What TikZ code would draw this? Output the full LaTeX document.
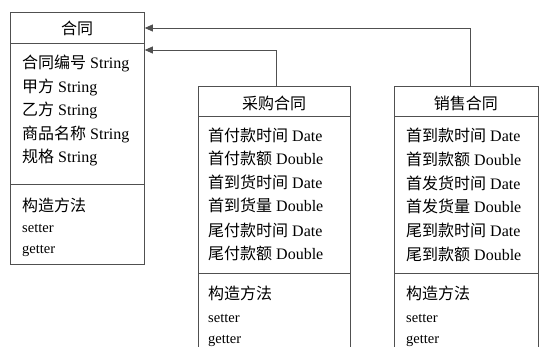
\documentclass[tikz,border=0pt]{standalone}
\usepackage{fontspec}
\setmainfont{Liberation Serif}
\newfontfamily\cjk{Noto Sans CJK SC}
\usetikzlibrary{arrows.meta}
\definecolor{linec}{HTML}{505050}
\begin{document}
\begin{tikzpicture}[x=1pt,y=-1pt,
  box/.style={draw=linec, line width=0.8pt, rectangle, anchor=north west, inner sep=0pt},
  div/.style={draw=linec, line width=0.8pt},
  conn/.style={draw=linec, line width=0.8pt, -{Triangle[length=8pt,width=7pt]}},
  txt/.style={anchor=base west, inner sep=0pt, font=\fontsize{16}{16}\selectfont},
  small/.style={anchor=base west, inner sep=0pt, font=\fontsize{14.5}{14.5}\selectfont},
  hdr/.style={anchor=base, inner sep=0pt, font=\fontsize{16}{16}\selectfont\cjk}]
\useasboundingbox (0,0) rectangle (539,347);
\clip (0,0) rectangle (539,347);
\fill[white] (0,0) rectangle (539,347);

% base class
\node[box, minimum width=134pt, minimum height=252pt] (base) at (10,12) {};
\draw[div] (base.west |- 0,43) -- (base.east |- 0,43);
\draw[div] (base.west |- 0,184) -- (base.east |- 0,184);
\node[hdr] (basehead) at (77,35) {合同};
\node[txt] (a1) at (22,69) {{\cjk 合同编号} String};
\node[txt] (a2) at (22,93) {{\cjk 甲方} String};
\node[txt] (a3) at (22,116) {{\cjk 乙方} String};
\node[txt] (a4) at (22,140) {{\cjk 商品名称} String};
\node[txt] (a5) at (22,163) {{\cjk 规格} String};
\node[txt] (m1) at (22,212) {\cjk 构造方法};
\node[small] (m2) at (22,233) {setter};
\node[small] (m3) at (22,254) {getter};

% purchase contract
\node[box, minimum width=152pt, minimum height=275pt] (buy) at (198,86) {};
\draw[div] (buy.west |- 0,116) -- (buy.east |- 0,116);
\draw[div] (buy.west |- 0,273) -- (buy.east |- 0,273);
\node[hdr] (buyhead) at (274,110) {采购合同};
\node[txt] (p1) at (208,142) {{\cjk 首付款时间} Date};
\node[txt] (p2) at (208,165) {{\cjk 首付款额} Double};
\node[txt] (p3) at (208,189) {{\cjk 首到货时间} Date};
\node[txt] (p4) at (208,212) {{\cjk 首到货量} Double};
\node[txt] (p5) at (208,237) {{\cjk 尾付款时间} Date};
\node[txt] (p6) at (208,260) {{\cjk 尾付款额} Double};
\node[txt] (pm1) at (208,300) {\cjk 构造方法};
\node[small] (pm2) at (208,323) {setter};
\node[small] (pm3) at (208,344) {getter};

% sales contract
\node[box, minimum width=143.5pt, minimum height=275pt] (sell) at (394,86) {};
\draw[div] (sell.west |- 0,116) -- (sell.east |- 0,116);
\draw[div] (sell.west |- 0,273) -- (sell.east |- 0,273);
\node[hdr] (sellhead) at (465.75,110) {销售合同};
\node[txt] (s1) at (406,142) {{\cjk 首到款时间} Date};
\node[txt] (s2) at (406,166) {{\cjk 首到款额} Double};
\node[txt] (s3) at (406,190) {{\cjk 首发货时间} Date};
\node[txt] (s4) at (406,213) {{\cjk 首发货量} Double};
\node[txt] (s5) at (406,237) {{\cjk 尾到款时间} Date};
\node[txt] (s6) at (406,261) {{\cjk 尾到款额} Double};
\node[txt] (sm1) at (406,300) {\cjk 构造方法};
\node[small] (sm2) at (406,323) {setter};
\node[small] (sm3) at (406,344) {getter};

% inheritance connectors
\draw[conn] ([xshift=4.25pt]sell.north) |- (base.east |- 0,28);
\draw[conn] ([xshift=2pt]buy.north) |- (base.east |- 0,50);
\end{tikzpicture}
\end{document}
